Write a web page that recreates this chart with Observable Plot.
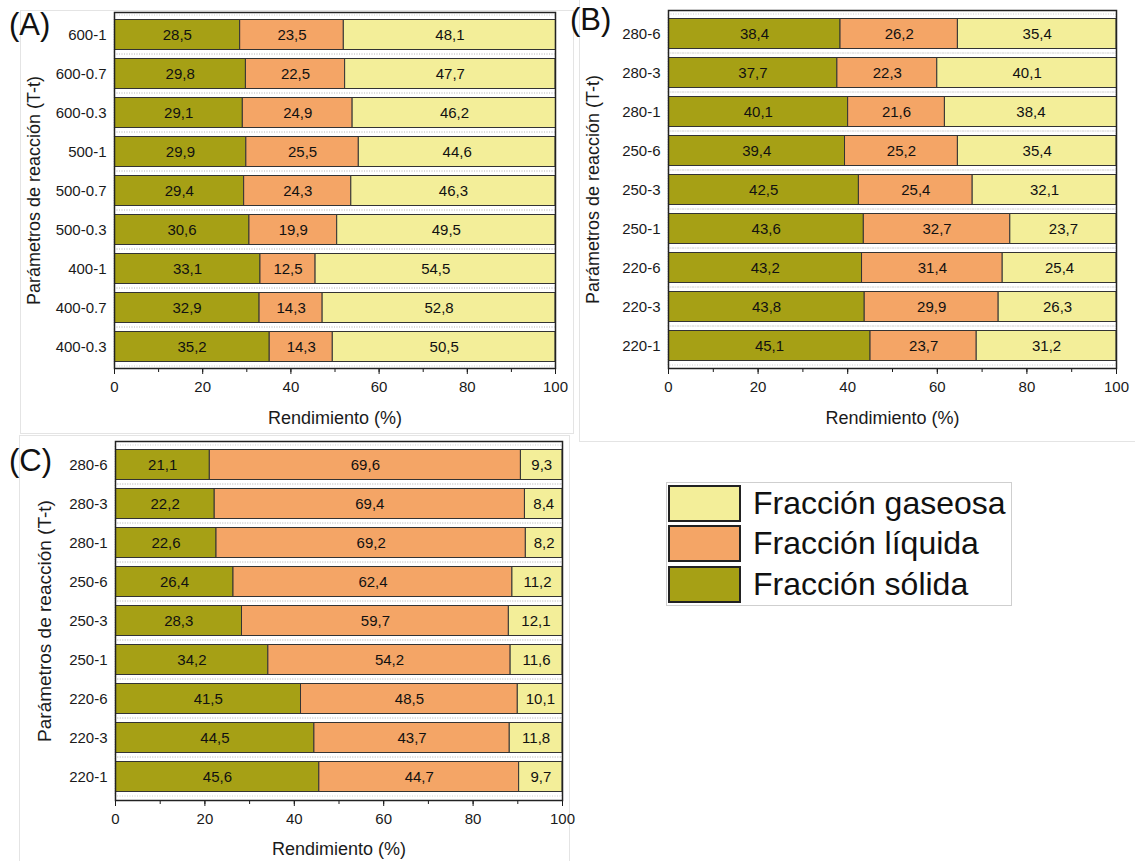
<!DOCTYPE html>
<html>
<head>
<meta charset="utf-8">
<script src="https://cdn.jsdelivr.net/npm/d3@7"></script>
<script src="https://cdn.jsdelivr.net/npm/@observablehq/plot@0.6"></script>
<style>
  html, body { margin: 0; padding: 0; background: #fff; }
  #root { position: relative; width: 1135px; height: 861px; overflow: hidden; font-family: "Liberation Sans", Arial, sans-serif; }
  .pane { position: absolute; }
  .box { position: absolute; border: 1px solid #e4e4e4; box-sizing: border-box; }
  .letter { position: absolute; font-size: 31px; line-height: 31px; color: #111; }
  #legend { position: absolute; left: 666px; top: 482px; width: 346px; height: 124px; border: 1px solid #cfcfcf; box-sizing: border-box; background: #fff; }
  .lrow { position: absolute; left: 1px; height: 37px; }
  .lsw { position: absolute; left: 0; top: 0; width: 73px; height: 37px; box-sizing: border-box; border: 2px solid #222; }
  .ltx { position: absolute; left: 85px; top: 0; font-size: 32px; line-height: 37px; color: #111; white-space: nowrap; }
</style>
</head>
<body>
<div id="root"></div>
<script>
// ---------- data ----------
const fractions = ["Fracción sólida", "Fracción líquida", "Fracción gaseosa"];
const fractionColors = ["#a6a015", "#f4a566", "#f3ee99"];

const catsA = ["600-1", "600-0.7", "600-0.3", "500-1", "500-0.7", "500-0.3", "400-1", "400-0.7", "400-0.3"];
const solidA  = [28.5, 29.8, 29.1, 29.9, 29.4, 30.6, 33.1, 32.9, 35.2];
const liquidA = [23.5, 22.5, 24.9, 25.5, 24.3, 19.9, 12.5, 14.3, 14.3];
const gasA    = [48.1, 47.7, 46.2, 44.6, 46.3, 49.5, 54.5, 52.8, 50.5];

const catsB = ["280-6", "280-3", "280-1", "250-6", "250-3", "250-1", "220-6", "220-3", "220-1"];
const solidB  = [38.4, 37.7, 40.1, 39.4, 42.5, 43.6, 43.2, 43.8, 45.1];
const liquidB = [26.2, 22.3, 21.6, 25.2, 25.4, 32.7, 31.4, 29.9, 23.7];
const gasB    = [35.4, 40.1, 38.4, 35.4, 32.1, 23.7, 25.4, 26.3, 31.2];

const catsC = ["280-6", "280-3", "280-1", "250-6", "250-3", "250-1", "220-6", "220-3", "220-1"];
const solidC  = [21.1, 22.2, 22.6, 26.4, 28.3, 34.2, 41.5, 44.5, 45.6];
const liquidC = [69.6, 69.4, 69.2, 62.4, 59.7, 54.2, 48.5, 43.7, 44.7];
const gasC    = [9.3, 8.4, 8.2, 11.2, 12.1, 11.6, 10.1, 11.8, 9.7];

const majorTicks = [0, 20, 40, 60, 80, 100];
const minorTicks = [0, 10, 20, 30, 40, 50, 60, 70, 80, 90, 100];
const xTitle = "Rendimiento (%)";
const yTitle = "Parámetros de reacción (T-t)";

// ---------- drawing ----------
const fmt = v => d3.format(".1f")(v).replace(".", ",");

function panel(cats, solid, liquid, gas, o) {
  const rows = [];
  cats.forEach((c, i) => {
    rows.push({cond: c, frac: fractions[0], v: solid[i]});
    rows.push({cond: c, frac: fractions[1], v: liquid[i]});
    rows.push({cond: c, frac: fractions[2], v: gas[i]});
  });
  return Plot.plot({
    width: o.width, height: o.height,
    marginLeft: o.ml, marginRight: o.mr, marginTop: o.mt, marginBottom: o.mb,
    style: {fontFamily: "'Liberation Sans', Arial, sans-serif", fontSize: "15px", color: "#1a1a1a", background: "transparent", overflow: "visible"},
    x: {domain: [0, 100]},
    y: {domain: cats, padding: 0},
    color: {domain: fractions, range: fractionColors},
    marks: [
      Plot.barX(cats, {x1: 0, x2: 100, y: d => d, fill: "none", stroke: "#d0d0d0", strokeDasharray: "1,1.5", strokeWidth: 1}),
      Plot.barX(rows, Plot.stackX({x: "v", y: "cond", fill: "frac", order: null, stroke: "#333", strokeWidth: 1, insetTop: 4.5, insetBottom: 4.5, clip: true})),
      Plot.text(rows, Plot.stackX({x: "v", y: "cond", order: null, text: d => fmt(d.v), fill: "#111", fontSize: 15})),
      Plot.axisY({tickSize: 0, tickPadding: 8, label: null, fontSize: 15}),
      Plot.axisY({ticks: [], label: yTitle, labelAnchor: "center", labelOffset: o.ylo, fontSize: o.yfs}),
      Plot.axisX({ticks: minorTicks, tickSize: 4, tickFormat: () => "", label: null}),
      Plot.axisX({ticks: majorTicks, tickSize: 6, tickPadding: 7, label: null, fontSize: 15}),
      Plot.axisX({ticks: [], label: xTitle, labelAnchor: "center", labelArrow: "none", labelOffset: o.xlo, fontSize: 18}),
      Plot.frame({stroke: "#222", strokeWidth: 1.5})
    ]
  });
}

const root = document.getElementById("root");

// faint panel borders (as in the reference screenshot)
[[20, 10, 554, 424], [579, -2, 560, 444], [19, 435, 551, 430]].forEach(([x, y, w, h]) => {
  const b = document.createElement("div");
  b.className = "box";
  b.style.left = x + "px"; b.style.top = y + "px";
  b.style.width = w + "px"; b.style.height = h + "px";
  root.appendChild(b);
});

function place(node, left, top) {
  const d = document.createElement("div");
  d.className = "pane";
  d.style.left = left + "px";
  d.style.top = top + "px";
  d.appendChild(node);
  root.appendChild(d);
}

place(panel(catsA, solidA, liquidA, gasA, {width: 570, height: 430, ml: 114, mr: 15, mt: 12, mb: 62, ylo: 87, yfs: 18, xlo: 55}), 0, 0);
place(panel(catsB, solidB, liquidB, gasB, {width: 565, height: 430, ml: 98, mr: 19, mt: 10, mb: 62, ylo: 82, yfs: 18, xlo: 55}), 570, 0);
place(panel(catsC, solidC, liquidC, gasC, {width: 595, height: 431, ml: 115, mr: 33, mt: 11, mb: 61, ylo: 78, yfs: 19, xlo: 54}), 0, 430);

// panel letters
[["(A)", 9, 9], ["(B)", 570, 4], ["(C)", 9, 445]].forEach(([t, x, y]) => {
  const d = document.createElement("div");
  d.className = "letter";
  d.style.left = x + "px";
  d.style.top = y + "px";
  d.textContent = t;
  root.appendChild(d);
});

// legend (top to bottom: gas, liquid, solid)
const legend = document.createElement("div");
legend.id = "legend";
const legOrder = [2, 1, 0];
const legTops = [2, 42, 83];
legOrder.forEach((k, i) => {
  const r = document.createElement("div");
  r.className = "lrow";
  r.style.top = legTops[i] + "px";
  const sw = document.createElement("div");
  sw.className = "lsw";
  sw.style.background = fractionColors[k];
  const tx = document.createElement("div");
  tx.className = "ltx";
  tx.textContent = fractions[k];
  r.appendChild(sw);
  r.appendChild(tx);
  legend.appendChild(r);
});
root.appendChild(legend);
</script>
</body>
</html>
